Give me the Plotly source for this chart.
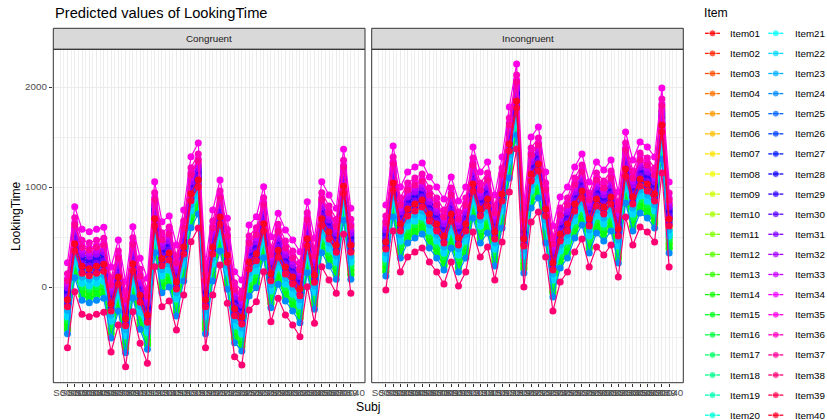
import colorsys
import plotly.graph_objects as go

W, H = 827, 420

subjects = [
    "S0001", "S0002", "S0003", "S0004", "S0005", "S0006", "S0007", "S0008", "S0009", "S0010",
    "S0011", "S0012", "S0013", "S0014", "S0015", "S0016", "S0017", "S0018", "S0019", "S0020",
    "S0021", "S0022", "S0023", "S0024", "S0025", "S0026", "S0027", "S0028", "S0029", "S0030",
    "S0031", "S0032", "S0033", "S0034", "S0035", "S0036", "S0037", "S0038", "S0039", "S0040",
]
items = [
    "Item01", "Item02", "Item03", "Item04", "Item05", "Item06", "Item07", "Item08", "Item09", "Item10",
    "Item11", "Item12", "Item13", "Item14", "Item15", "Item16", "Item17", "Item18", "Item19", "Item20",
    "Item21", "Item22", "Item23", "Item24", "Item25", "Item26", "Item27", "Item28", "Item29", "Item30",
    "Item31", "Item32", "Item33", "Item34", "Item35", "Item36", "Item37", "Item38", "Item39", "Item40",
]
conditions = ["Congruent", "Incongruent"]

# predicted LookingTime for the average item, per subject and condition
congruent_subj = [
    -167, 393, 167, 143, 167, 187, -210, 60, -357, 193,
    -123, -323, 643, 243, 300, 10, 360, 893, 1030, -167,
    360, 660, 277, -257, -340, 210, 293, 593, 93, 327,
    160, 60, -57, 443, 77, 643, 510, 377, 967, 377,
]
incongruent_subj = [
    410, 1000, 590, 740, 790, 830, 690, 590, 470, 690,
    450, 590, 990, 740, 840, 510, 890, 1390, 1820, 440,
    1090, 1190, 740, 200, 490, 590, 790, 920, 640, 840,
    760, 860, 540, 1140, 860, 1040, 990, 890, 1580, 640,
]
# random item deviations from the average item
item_effect = [
    180, 60, 120, -20, 30, -60, 0, -40, -120, -160,
    -230, -210, -260, -200, -250, -170, -140, -110, -120, -90,
    -100, -130, -70, -300, 20, 90, 140, 50, 110, -10,
    70, 160, 200, 250, 410, 300, 230, -440, -30, 40,
]


def rainbow(n):
    out = []
    for i in range(n):
        r, g, b = colorsys.hsv_to_rgb(i / n, 1, 1)
        out.append("#%02X%02X%02X" % (round(r * 255), round(g * 255), round(b * 255)))
    return out


colors = rainbow(len(items))
FONT = "Liberation Sans, Arial, Helvetica, sans-serif"
x_pos = list(range(1, len(subjects) + 1))

# panel geometry in pixels
P1 = (53.3, 365.0)
P2 = (371.7, 683.3)
PY = (49.3, 382.7)
STRIP = (28.3, 49.3)

fig = go.Figure()

panel_axes = [("x", "y", congruent_subj), ("x2", "y2", incongruent_subj)]
for xa, ya, subj_vals in panel_axes:
    for i, item in enumerate(items):
        yv = [s + item_effect[i] for s in subj_vals]
        fig.add_trace(go.Scatter(
            x=x_pos, y=yv, mode="lines+markers", name=item,
            line=dict(color=colors[i], width=1.2),
            marker=dict(color=colors[i], size=7),
            xaxis=xa, yaxis=ya, showlegend=False, hoverinfo="skip",
        ))

# hand-built legend in a pixel-space overlay axis
row0, row_gap = 33.3, 20.1
for i, item in enumerate(items):
    col, row = divmod(i, 20)
    lx0 = 705.0 if col == 0 else 768.3
    ry = row0 + row * row_gap
    fig.add_trace(go.Scatter(
        x=[lx0, lx0 + 7.5, lx0 + 15], y=[ry, ry, ry], mode="lines+markers",
        line=dict(color=colors[i], width=1.3),
        marker=dict(color=colors[i], size=[0, 7, 0]),
        xaxis="x3", yaxis="y3", showlegend=False, hoverinfo="skip",
    ))

annotations = []
for i, item in enumerate(items):
    col, row = divmod(i, 20)
    tx = 728.3 if col == 0 else 793.3
    ry = row0 + row * row_gap
    annotations.append(dict(
        x=tx, y=ry, xref="x3", yref="y3", text=item, showarrow=False,
        xanchor="left", yanchor="middle", font=dict(size=9.8, color="#000000", family=FONT),
    ))
annotations.append(dict(x=702, y=12.5, xref="x3", yref="y3", text="Item", showarrow=False,
                        xanchor="left", yanchor="middle", font=dict(size=12.2, color="#000000", family=FONT)))
annotations.append(dict(x=53, y=13, xref="x3", yref="y3", text="Predicted values of LookingTime",
                        showarrow=False, xanchor="left", yanchor="middle",
                        font=dict(size=14.7, color="#000000", family=FONT)))
for (x0, x1), cond in zip([P1, P2], conditions):
    annotations.append(dict(x=(x0 + x1) / 2, y=(STRIP[0] + STRIP[1]) / 2, xref="x3", yref="y3",
                            text=cond, showarrow=False, xanchor="center", yanchor="middle",
                            font=dict(size=9.8, color="#1A1A1A", family=FONT)))
annotations.append(dict(x=(P1[0] + P2[1]) / 2, y=407, xref="x3", yref="y3", text="Subj",
                        showarrow=False, xanchor="center", yanchor="middle",
                        font=dict(size=12.2, color="#000000", family=FONT)))
annotations.append(dict(x=16, y=(PY[0] + PY[1]) / 2, xref="x3", yref="y3", text="LookingTime",
                        showarrow=False, textangle=-90, xanchor="center", yanchor="middle",
                        font=dict(size=12.2, color="#000000", family=FONT)))

shapes = []
for x0, x1 in [P1, P2]:
    shapes.append(dict(type="rect", xref="x3", yref="y3", x0=x0, x1=x1, y0=STRIP[0], y1=STRIP[1],
                       fillcolor="#D9D9D9", line=dict(color="#333333", width=1), layer="above"))
    shapes.append(dict(type="rect", xref="x3", yref="y3", x0=x0, x1=x1, y0=PY[0], y1=PY[1],
                       fillcolor="rgba(0,0,0,0)", line=dict(color="#333333", width=1), layer="above"))

x_minor = [v / 2 for v in range(0, 83)]
x_minor = [v for v in x_minor if not (v == int(v) and 1 <= v <= 40)]
xrange = [-0.95, 41.95]
yrange = [-957, 2377]


def xaxis_cfg(domain, anchor):
    return dict(
        domain=domain, range=xrange, tickmode="array", tickvals=x_pos, ticktext=subjects,
        tickangle=0, ticks="outside", ticklen=3.5, tickwidth=1, tickcolor="#333333",
        tickfont=dict(size=9.8, color="#4D4D4D", family=FONT), ticklabelstandoff=-3,
        showgrid=True, gridcolor="#EBEBEB", gridwidth=1, zeroline=False, showline=False,
        minor=dict(tickmode="array", tickvals=x_minor, showgrid=True, gridcolor="#EFEFEF",
                   gridwidth=0.6, ticks=""),
        anchor=anchor, fixedrange=True,
    )


ydom = [1 - PY[1] / H, 1 - PY[0] / H]
yaxis_common = dict(
    domain=ydom, range=yrange, tickmode="array", tickvals=[0, 1000, 2000],
    showgrid=True, gridcolor="#EBEBEB", gridwidth=1, zeroline=False, showline=False,
    minor=dict(tickmode="array", tickvals=[-500, 500, 1500], showgrid=True,
               gridcolor="#EFEFEF", gridwidth=0.6, ticks=""),
    fixedrange=True,
)

fig.update_layout(
    width=W, height=H, autosize=False,
    margin=dict(l=0, r=0, t=0, b=0, pad=0),
    paper_bgcolor="white", plot_bgcolor="rgba(0,0,0,0)",
    showlegend=False,
    xaxis=xaxis_cfg([P1[0] / W, P1[1] / W], "y"),
    xaxis2=xaxis_cfg([P2[0] / W, P2[1] / W], "y2"),
    yaxis=dict(**yaxis_common, anchor="x", ticks="outside", ticklen=3.5, tickwidth=1,
               tickcolor="#333333", tickfont=dict(size=9.8, color="#4D4D4D", family=FONT)),
    yaxis2=dict(**yaxis_common, anchor="x2", showticklabels=False, ticks=""),
    xaxis3=dict(domain=[0, 1], range=[0, W], visible=False, fixedrange=True, anchor="y3"),
    yaxis3=dict(domain=[0, 1], range=[H, 0], visible=False, fixedrange=True, anchor="x3"),
    annotations=annotations,
    shapes=shapes,
)

fig.write_html("out.html")
